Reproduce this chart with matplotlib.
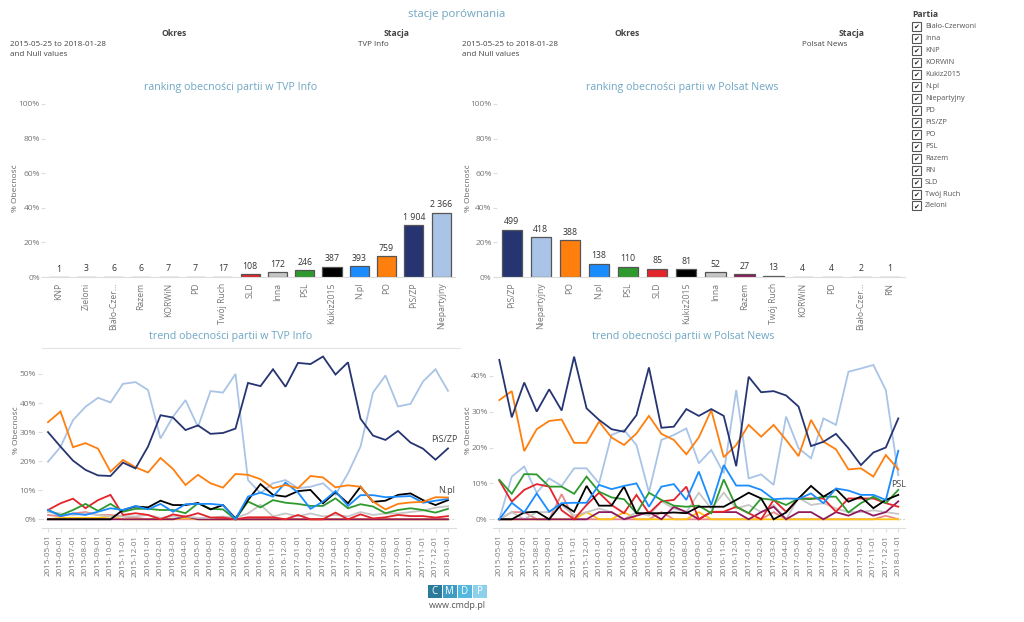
import matplotlib
matplotlib.use("Agg")
import matplotlib.pyplot as plt
from matplotlib.patches import Rectangle

W, H = 1024, 622
plt.rcParams['font.family'] = ['Open Sans', 'DejaVu Sans']

# ---------------- data ----------------
legend_parties = ["Biało-Czerwoni", "Inna", "KNP", "KORWiN", "Kukiz2015", "N.pl",
                  "Niepartyjny", "PD", "PiS/ZP", "PO", "PSL", "Razem", "RN", "SLD",
                  "Twój Ruch", "Zieloni"]

party_colors = {
    "PiS/ZP": "#263572", "Niepartyjny": "#A9C4E6", "PO": "#FF7F0E", "N.pl": "#1A8CFF",
    "PSL": "#2E9A2E", "SLD": "#E3242B", "Kukiz2015": "#000000", "Inna": "#C6C6C6",
    "Razem": "#8E1A5C", "Twój Ruch": "#E88A8A", "KORWiN": "#FFC20E", "PD": "#B0B0B0",
    "Biało-Czerwoni": "#D9534F", "KNP": "#9467BD", "RN": "#8C564B", "Zieloni": "#98DF8A",
}

tvp_cats = ["KNP", "Zieloni", "Biało-Czer...", "Razem", "KORWiN", "PD", "Twój Ruch", "SLD",
            "Inna", "PSL", "Kukiz2015", "N.pl", "PO", "PiS/ZP", "Niepartyjny"]
tvp_color_keys = ["KNP", "Zieloni", "Biało-Czerwoni", "Razem", "KORWiN", "PD", "Twój Ruch", "SLD",
                  "Inna", "PSL", "Kukiz2015", "N.pl", "PO", "PiS/ZP", "Niepartyjny"]
tvp_counts = [1, 3, 6, 6, 7, 7, 17, 108, 172, 246, 387, 393, 759, 1904, 2366]
tvp_labels = ["1", "3", "6", "6", "7", "7", "17", "108", "172", "246", "387", "393", "759",
              "1 904", "2 366"]

polsat_cats = ["PiS/ZP", "Niepartyjny", "PO", "N.pl", "PSL", "SLD", "Kukiz2015", "Inna",
               "Razem", "Twój Ruch", "KORWiN", "PD", "Biało-Czer...", "RN"]
polsat_color_keys = ["PiS/ZP", "Niepartyjny", "PO", "N.pl", "PSL", "SLD", "Kukiz2015", "Inna",
                     "Razem", "Twój Ruch", "KORWiN", "PD", "Biało-Czerwoni", "RN"]
polsat_counts = [499, 418, 388, 138, 110, 85, 81, 52, 27, 13, 4, 4, 2, 1]
polsat_labels = ["499", "418", "388", "138", "110", "85", "81", "52", "27", "13", "4", "4", "2", "1"]

months = ["2015-05-01", "2015-06-01", "2015-07-01", "2015-08-01", "2015-09-01", "2015-10-01",
          "2015-11-01", "2015-12-01", "2016-01-01", "2016-02-01", "2016-03-01", "2016-04-01",
          "2016-05-01", "2016-06-01", "2016-07-01", "2016-08-01", "2016-09-01", "2016-10-01",
          "2016-11-01", "2016-12-01", "2017-01-01", "2017-02-01", "2017-03-01", "2017-04-01",
          "2017-05-01", "2017-06-01", "2017-07-01", "2017-08-01", "2017-09-01", "2017-10-01",
          "2017-11-01", "2017-12-01", "2018-01-01"]

# TVP Info trend (% presence per month)
tvp_pis = [30, 25, 20.2, 17, 15.1, 14.9, 19.5, 17.5, 25, 35.8, 35, 30.7, 32.3, 29.4, 29.7, 31.2,
           46.9, 45.8, 51.6, 45.6, 53.8, 53.4, 56, 49.8, 54, 34.6, 28.8, 27.3, 30.4, 26.4, 24.3,
           20.5, 24.4]
tvp_niep = [19.8, 24.9, 34.1, 38.7, 41.8, 40.2, 46.6, 47.2, 44.5, 27.8, 35.3, 41, 31.8, 44.1, 43.6,
            50, 13.5, 9, 12.4, 13.5, 10.7, 11.2, 12.4, 8.5, 15.8, 25, 43.6, 49.5, 38.8, 39.7, 47.4,
            51.6, 44.2]
tvp_po = [33.4, 37.1, 24.8, 26.2, 24.3, 16.4, 20.4, 17.9, 16.1, 21.1, 17.3, 11.8, 15.3, 12.4, 10.9,
          15.6, 15.3, 13.8, 10.7, 11.8, 10.7, 14.9, 14.4, 11, 11.7, 11.2, 6.1, 3.4, 5.3, 5.8, 6,
          7.6, 7.5]
tvp_npl = [3.2, 1.1, 2, 1.5, 2.6, 3.8, 3.2, 4.6, 3.4, 5.3, 2.6, 5.2, 5.3, 5.3, 4.9, 0, 7.8, 9.2, 7.8,
           12.6, 9.2, 3.6, 6.1, 9.7, 4.6, 8.3, 8.3, 7.6, 7.8, 8, 5.7, 6.4, 7]
tvp_kukiz = [0, 0, 0, 0, 0, 0, 3.2, 4.4, 4.1, 6.4, 4.9, 4.9, 5.6, 3.4, 4.9, 0.3, 6.6, 12.1, 8.4,
             7.8, 9.7, 10.1, 5.5, 9.3, 5.5, 11.2, 6, 6.4, 8.4, 8.9, 6.6, 4.9, 6.6]
tvp_psl = [3.2, 1.4, 3.2, 5.3, 2.9, 5.3, 2.6, 3.6, 3.6, 3.2, 3.2, 2.1, 5.5, 3.6, 3.4, 0, 6.1, 4.1,
           6.6, 5.7, 5.3, 4.6, 4.6, 7.2, 3.8, 5.2, 4.4, 2.1, 3.2, 3.8, 3.2, 2.3, 3.6]
tvp_sld = [3.2, 5.5, 7.1, 3.8, 6.6, 8.4, 1.5, 2.1, 1.5, 0, 1.7, 0.9, 2.1, 0.6, 0.6, 0, 0.7, 0.7,
           0.7, 0, 1.5, 0, 0, 2.3, 0, 1.7, 0.3, 0.7, 1.5, 1.1, 1.1, 0.6, 1.1]
tvp_inna = [2.5, 2, 1.5, 2, 1.5, 1, 1, 1, 1.5, 0.5, 1, 1, 0.5, 0.5, 1, 0.5, 2, 5, 1, 2, 1, 2, 1,
            1.5, 1, 2.5, 1.5, 2, 2, 2.5, 3, 4, 4.5]
tvp_twoj = [1.5, 1, 2, 2.5, 1.5, 1.5, 1, 0.5, 0, 0.5, 0, 0, 0, 0, 0, 0, 0, 0, 0, 0, 0, 0, 0, 0, 0,
            0, 0, 0, 0, 0, 0, 0, 0]
tvp_razem = [0, 0, 0, 0, 0, 0, 0, 0, 0, 0, 0, 1, 0, 0, 0, 0, 0, 0, 0, 0, 0, 0, 0, 0, 0, 0, 0, 0, 0,
             0, 0, 0, 0]
tvp_korwin = [0, 0.5, 0.5, 0.5, 0.5, 1, 0, 0, 0, 0, 0, 0.5, 0, 0, 0, 0, 0, 0, 0, 0, 0, 0, 0, 0, 0,
              0, 0, 0, 0, 0, 0, 0, 0]

# Polsat News trend (% presence per month)
pol_pis = [44.4, 28.4, 38.1, 30, 36.2, 30.3, 45.3, 30.9, 27.7, 25.1, 24.4, 29, 42.3, 25.5, 25.8,
           30.7, 28.8, 30.7, 28.8, 14.8, 39.7, 35.4, 35.7, 34.5, 31.4, 20.4, 21.6, 23.8, 19.8,
           15.1, 18.6, 20, 28.1]
pol_po = [33.2, 35.7, 19, 25.1, 27.4, 27.8, 21.3, 21.3, 27.2, 22.8, 20.7, 23.9, 28.8, 23.8, 22.1,
          18.1, 22.8, 30.4, 17.3, 20.7, 26.3, 23, 26.3, 22.1, 17.6, 27.7, 21.6, 19.5, 13.9, 14.2,
          11.9, 17.9, 13.9]
pol_niep = [0, 11.9, 14.7, 7.4, 11.4, 9.3, 14.2, 14.2, 10, 23.5, 24.9, 20.7, 7.5, 22.1, 23.5, 25.3,
            15.6, 19.3, 12.8, 36, 11.4, 12.5, 9.6, 28.6, 19.8, 17, 28.1, 26.3, 41.1, 42, 43, 36,
            12.3]
pol_npl = [0, 4.6, 1.9, 7.2, 2.1, 4.5, 4.6, 4.6, 9.6, 8.4, 9.3, 10, 3.5, 9.1, 9.8, 5.4, 13.3, 4,
           15.1, 9.4, 9.4, 8.2, 5.6, 5.8, 5.7, 7.2, 4.5, 8.6, 8, 6.8, 6.8, 5.4, 19.1]
pol_psl = [11, 7.1, 12.6, 12.5, 9.1, 9.1, 7.1, 11.9, 7.7, 6.1, 5.6, 1.7, 7.4, 5.4, 3.8, 3.5, 3.8,
           1.7, 11.1, 3.5, 1.7, 5.8, 5.4, 4, 5.8, 5.6, 6.3, 6.3, 1.9, 4.5, 6.3, 4.5, 8.2]
pol_sld = [10.8, 4.9, 8.2, 9.8, 9.1, 2.5, 0, 4, 7.4, 4, 1.7, 6.8, 1.7, 5, 5.4, 9.1, 0, 2.1, 2.1, 3.5,
           1.7, 0, 5.4, 2.1, 5.8, 5.8, 5.8, 2.1, 5.8, 5.8, 5.8, 4.5, 3.5]
pol_kukiz = [0, 0, 1.9, 2.1, 0, 4.3, 2.1, 9.3, 3.8, 3.8, 9.1, 1.7, 1.7, 1.7, 1.9, 1.7, 3.5, 3.5,
             3.5, 5.4, 7.4, 5.8, 0, 1.9, 5.8, 9.3, 6.3, 8.4, 4.9, 6.3, 3.1, 5.4, 6.8]
pol_inna = [0, 2, 0, 2, 2, 4, 1, 2, 3, 2, 0, 2, 1, 5, 3, 2, 7.4, 3, 7.4, 3, 4, 2, 4, 0, 6, 4, 4.5,
            3, 2, 2, 2.5, 2, 1.5]
pol_razem = [0, 0, 0, 0, 0, 0, 0, 0, 2, 2, 0, 1, 2, 0, 3.5, 2, 0, 2, 2, 2, 0, 2, 3.5, 0, 2, 2, 0, 2,
             1, 2.5, 1, 2, 5]
pol_twoj = [0, 2, 2, 0, 0, 7, 0, 0, 0, 0, 0, 0, 0, 2, 0, 0, 0, 0, 0, 0, 0, 0, 2, 0, 0, 0, 0, 0, 0, 0,
            0, 1, 0]
pol_korwin = [0, 0, 0, 0, 0, 0, 0, 2, 0, 0, 2, 0, 0, 0, 0, 0, 2, 0, 0, 0, 0, 0, 0, 0, 0, 0, 0, 0, 0,
              0, 0, 0, 0]

tvp_series = [("Twój Ruch", tvp_twoj), ("KORWiN", tvp_korwin), ("Razem", tvp_razem),
              ("Inna", tvp_inna), ("Niepartyjny", tvp_niep), ("SLD", tvp_sld), ("PSL", tvp_psl),
              ("Kukiz2015", tvp_kukiz), ("N.pl", tvp_npl), ("PO", tvp_po), ("PiS/ZP", tvp_pis)]
pol_series = [("Twój Ruch", pol_twoj), ("KORWiN", pol_korwin), ("Inna", pol_inna),
              ("Razem", pol_razem), ("Niepartyjny", pol_niep), ("SLD", pol_sld), ("PSL", pol_psl),
              ("Kukiz2015", pol_kukiz), ("N.pl", pol_npl), ("PO", pol_po), ("PiS/ZP", pol_pis)]

# ---------------- layout helpers ----------------
TITLE_C = "#6FA6C4"
TICK_C = "#777777"
TEXT_C = "#444444"

fig = plt.figure(figsize=(W / 100, H / 100), dpi=100)
fig.patch.set_facecolor("white")


def rect(l, t, r, b):
    return [l / W, 1 - b / H, (r - l) / W, (b - t) / H]


def ftext(x, y, s, **kw):
    kw.setdefault("color", TEXT_C)
    kw.setdefault("va", "center")
    fig.text(x / W, 1 - y / H, s, **kw)


# ---------------- header ----------------
ftext(457, 15, "stacje porównania", ha="center", fontsize=8.2, color=TITLE_C)
for (ox, sx, dx, stx, st) in [(174, 397, 10, 358, "TVP Info"), (627, 852, 462, 802, "Polsat News")]:
    ftext(ox, 33, "Okres", ha="center", fontsize=6.2, fontweight="bold")
    ftext(sx, 33, "Stacja", ha="center", fontsize=6.2, fontweight="bold")
    ftext(dx, 44, "2015-05-25 to 2018-01-28", ha="left", fontsize=5.8)
    ftext(dx, 54.5, "and Null values", ha="left", fontsize=5.8)
    ftext(stx, 44, st, ha="left", fontsize=5.8)

# ---------------- legend (slicer) ----------------
ftext(912, 14.5, "Partia", ha="left", fontsize=6.2, fontweight="bold")
for i, p in enumerate(legend_parties):
    y = 26.7 + i * 11.95
    fig.patches.append(Rectangle(((912) / W, 1 - (y + 4.5) / H), 9 / W, 9 / H,
                                 transform=fig.transFigure, fill=False, edgecolor="#555555",
                                 linewidth=0.8))
    ftext(916.5, y + 0.3, "✔", ha="center", fontsize=5, family="DejaVu Sans", color="#222222")
    ftext(925, y, p, ha="left", fontsize=5.3, color="#555555")


# ---------------- bar charts ----------------
def bar_chart(l, r, cats, keys, counts, labels, title, title_x, ylab_x):
    ax = fig.add_axes(rect(l, 104, r, 277))
    total = sum(counts)
    pct = [c / total * 100 for c in counts]
    xs = list(range(len(cats)))
    ax.bar(xs, pct, width=0.7, color=[party_colors[k] for k in keys], edgecolor="#555555",
           linewidth=0.9)
    for x, v, lab in zip(xs, pct, labels):
        ax.annotate(lab, (x, v), xytext=(0, 2.5), textcoords="offset points", ha="center",
                    va="bottom", fontsize=6.3, color="#333333")
    ax.set_xlim(-0.5, len(cats) - 0.5)
    ax.set_ylim(0, 100)
    ax.set_yticks([0, 20, 40, 60, 80, 100])
    ax.set_yticklabels(["0%", "20%", "40%", "60%", "80%", "100%"])
    ax.set_xticks(xs)
    ax.set_xticklabels(cats, rotation=90, fontsize=6.2, color=TICK_C)
    ax.tick_params(axis="y", labelsize=6, colors="#DDDDDD", labelcolor=TICK_C, length=3, pad=1)
    ax.tick_params(axis="x", length=0, pad=4)
    for s in ["top", "right", "left"]:
        ax.spines[s].set_visible(False)
    ax.spines["bottom"].set_color("#DDDDDD")
    ax.set_facecolor("none")
    ftext(title_x, 87.7, title, ha="center", fontsize=7.7, color=TITLE_C)
    ftext(ylab_x, 188, "% Obecność", ha="center", rotation=90, fontsize=6, color="#666666")
    return ax


bar_chart(45.35, 454.85, tvp_cats, tvp_color_keys, tvp_counts, tvp_labels,
          "ranking obecności partii w TVP Info", 231, 15.5)
bar_chart(497.15, 904.55, polsat_cats, polsat_color_keys, polsat_counts, polsat_labels,
          "ranking obecności partii w Polsat News", 682.5, 468)


# ---------------- trend charts ----------------
def trend_chart(l, r, x0px, x1px, zero_px, ten_px, yticks, series, title, title_x, ylab_x,
                annots):
    top, bot = 352, 528.3
    ax = fig.add_axes(rect(l, top, r, bot))
    n = len(months)
    step = (x1px - x0px) / (n - 1)
    ax.set_xlim(-(x0px - l) / step, (n - 1) + (r - x1px) / step)
    ax.set_ylim(-(bot - zero_px) / ten_px * 10, (zero_px - top) / ten_px * 10)
    xs = list(range(n))
    ax.axhline(0, color="#BBBBBB", linewidth=0.8, linestyle=(0, (1, 2)), zorder=0)
    for name, vals in series:
        ax.plot(xs, vals, color=party_colors[name], linewidth=1.3, solid_joinstyle="miter")
    for name, vals in series:
        if name in annots:
            ax.annotate(name, (n - 1, vals[-1]), xytext=annots[name], textcoords="offset points",
                        ha="center", va="bottom", fontsize=6.5, color="#444444")
    ax.set_yticks(yticks)
    ax.set_yticklabels([f"{t}%" for t in yticks])
    ax.set_xticks(xs)
    ax.set_xticklabels(months, rotation=90, fontsize=5.8, color=TICK_C)
    ax.tick_params(axis="y", labelsize=6, colors="#DDDDDD", labelcolor=TICK_C, length=3, pad=1)
    ax.tick_params(axis="x", colors="#DDDDDD", labelcolor=TICK_C, length=3, pad=1.5)
    for s in ["top", "right", "left"]:
        ax.spines[s].set_visible(False)
    ax.spines["bottom"].set_color("#DDDDDD")
    ax.set_facecolor("none")
    ftext(title_x, 337, title, ha="center", fontsize=7.7, color=TITLE_C)
    ftext(ylab_x, 430, "% Obecność", ha="center", rotation=90, fontsize=6, color="#666666")
    return ax


trend_chart(41.7, 456, 48, 448, 519.3, 29.07, [0, 10, 20, 30, 40, 50], tvp_series,
            "trend obecności partii w TVP Info", 231, 17,
            {"PiS/ZP": (-3, 3), "N.pl": (-1, 3)})
trend_chart(493.3, 905, 499.3, 898.3, 519.3, 35.9, [0, 10, 20, 30, 40], pol_series,
            "trend obecności partii w Polsat News", 682.7, 468,
            {"PSL": (0, 0.5)})

# separator under left trend title
fig.lines.append(plt.Line2D([42 / W, 460 / W], [1 - 348 / H, 1 - 348 / H],
                            transform=fig.transFigure, color="#E3E3E3", linewidth=0.8))

# ---------------- logo ----------------
logo_letters = ["C", "M", "D", "P"]
logo_colors = ["#2B7A99", "#3E9CC2", "#54B7DD", "#8CD0EC"]
for i, (ch, c) in enumerate(zip(logo_letters, logo_colors)):
    x = 428 + i * 15
    fig.patches.append(Rectangle((x / W, 1 - 598 / H), 13.5 / W, 13 / H,
                                 transform=fig.transFigure, facecolor=c, edgecolor="none"))
    ftext(x + 6.75, 591.5, ch, ha="center", fontsize=7, color="white")
ftext(457, 605, "www.cmdp.pl", ha="center", fontsize=6.5, color="#555555")

fig.savefig("out.png", dpi=100, facecolor="white")
